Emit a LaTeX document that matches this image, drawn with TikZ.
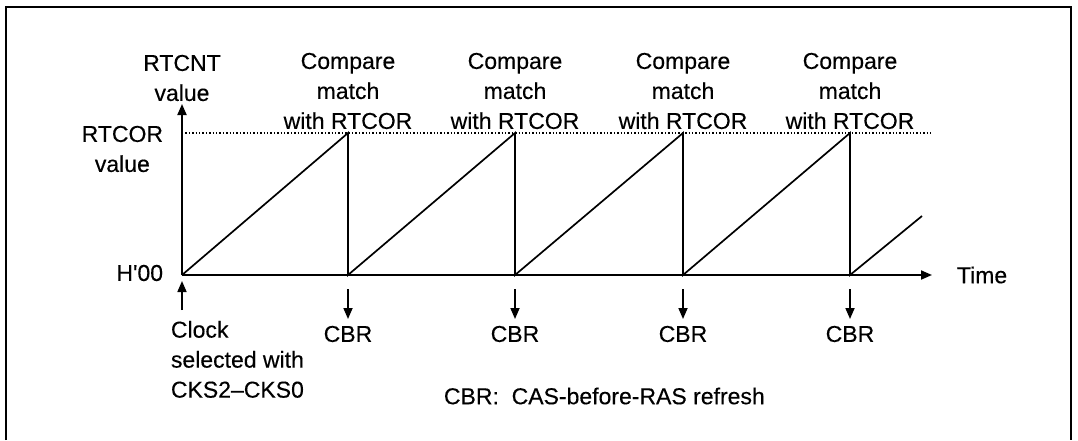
\documentclass[tikz,border=0pt]{standalone}
\usepackage{fontspec}
\setmainfont{Liberation Sans}[FakeBold=0.3]
\usetikzlibrary{arrows.meta}
\begin{document}
\begin{tikzpicture}[x=1pt,y=-1pt,
  line width=1.9pt,
  tip/.style={-{Triangle[length=11pt,width=9pt]}},
  lbl/.style={font=\fontsize{23}{30}\selectfont, inner sep=0pt, align=center},
  thin line/.style={line width=1.7pt}]
\useasboundingbox (0,0) rectangle (1078,440);
% frame
\draw[line width=1.8pt] (6,440) -- (6,7) -- (1071,7) -- (1071,440);
% coordinates
\coordinate (O) at (182,275);
\coordinate (Ytop) at (182,104);
\coordinate (Xend) at (932,275);
\coordinate (R0) at (182,133);
\coordinate (Rend) at (932,133);
\foreach \i/\x in {1/348,2/515,3/683,4/850}{
  \coordinate (P\i) at (\x,133);
  \coordinate (B\i) at (\x,275);
}
\coordinate (E) at (922,216);
% axes
\draw[tip] (O) -- (Xend);
\draw[tip] (O) -- (Ytop);
\draw[dotted, line width=1.4pt] (R0) -- (Rend);
% sawtooth
\draw[thin line] (O) -- (P1) -- (B1) -- (P2) -- (B2) -- (P3) -- (B3) -- (P4) -- (B4) -- (E);
% labels
\node[lbl] (rtcnt) at (182,78) {RTCNT\\value};
\node[lbl, anchor=east] (rtcor) at (164,149) {RTCOR\\value};
\node[lbl, anchor=east] (h00) at (164,273) {H\textquotesingle00};
\node[lbl, anchor=west] (time) at (956,275) {Time};
\foreach \i/\x in {1/348,2/515,3/683,4/850}{
  \node[lbl] (cm\i) at (\x,91) {Compare\\match\\with RTCOR};
  \coordinate (a\i) at (\x,289);
  \coordinate (b\i) at (\x,319);
  \draw[tip, thin line] (a\i) -- (b\i);
  \node[lbl] (cbr\i) at (\x,334) {CBR};
}
\coordinate (ca) at (182,310);
\coordinate (cb) at (182,281);
\draw[tip, thin line] (ca) -- (cb);
\node[lbl, align=left, anchor=north west] (clock) at (170,320) {Clock\\selected with\\CKS2–CKS0};
\node[lbl, anchor=west] (legend) at (443,396) {CBR:\ \ CAS-before-RAS refresh};
\end{tikzpicture}
\end{document}
